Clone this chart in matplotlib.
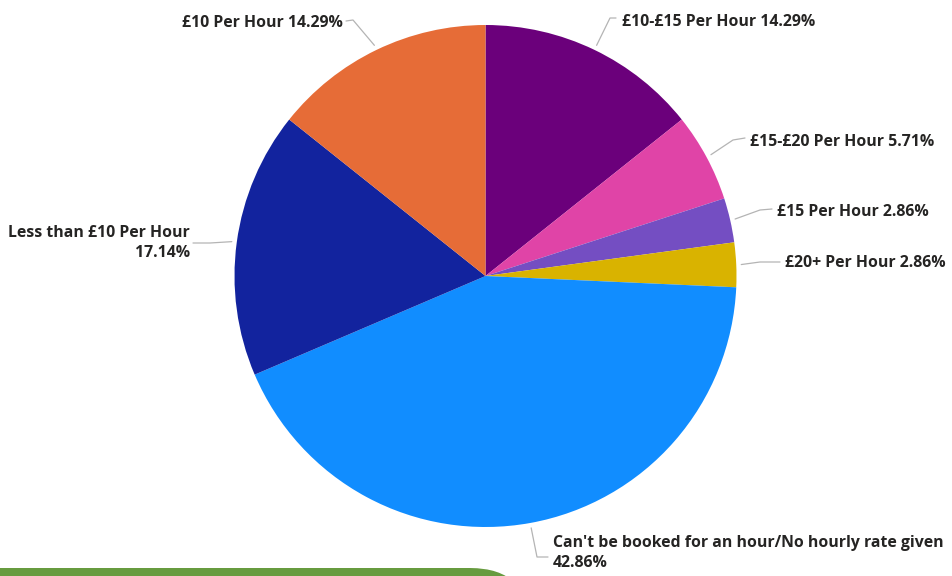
import matplotlib.pyplot as plt
import numpy as np
from matplotlib.patches import FancyBboxPatch

plt.rcParams['font.family'] = ['Open Sans', 'DejaVu Sans']

labels = ["£10-£15 Per Hour", "£15-£20 Per Hour", "£15 Per Hour", "£20+ Per Hour",
          "Can't be booked for an hour/No hourly rate given",
          "Less than £10 Per Hour", "£10 Per Hour"]
shares = [14.29, 5.71, 2.86, 2.86, 42.86, 17.14, 14.29]
colors = ["#6B007B", "#E044A7", "#744EC2", "#D9B300", "#118DFF", "#12239E", "#E66C37"]

W, H = 953, 576
fig = plt.figure(figsize=(W / 100, H / 100), dpi=100)
ax = fig.add_axes([0, 0, 1, 1])

cx, cy, r = 485.5, H - 276, 251
wedges, _ = ax.pie(shares, colors=colors, startangle=90, counterclock=False,
                   center=(cx, cy), radius=r,
                   wedgeprops=dict(linewidth=0, antialiased=True))
ax.set_xlim(0, W)
ax.set_ylim(0, H)
ax.set_aspect('equal')
ax.axis('off')

# label placement in pixels from the top-left: elbow point, line end, text anchor, alignment, two-line?
layout = [
    ((610, 18), (616, 18), (622, 22), 'left', False),
    ((733, 140), (745, 138), (750, 142), 'left', False),
    ((760, 210), (772, 209), (777, 212), 'left', False),
    ((760, 262), (780, 262), (785, 263), 'left', False),
    ((537, 557), (548, 557), (553, 553), 'left', True),
    ((210, 243), (193, 243), (190, 243), 'right', True),
    ((353, 20), (346, 21), (343, 23), 'right', False),
]

for w, lab, val, (elbow, end, txt, ha, twoline) in zip(wedges, labels, shares, layout):
    mid = np.deg2rad((w.theta1 + w.theta2) / 2)
    x0 = cx + r * 1.02 * np.cos(mid)
    y0 = cy + r * 1.02 * np.sin(mid)
    xs = [x0, elbow[0], end[0]]
    ys = [y0, H - elbow[1], H - end[1]]
    ax.plot(xs, ys, color="#b4b4b4", lw=0.9, solid_capstyle='round')
    sep = "\n" if twoline else " "
    ax.text(txt[0], H - txt[1], f"{lab}{sep}{val:.2f}%", ha=ha, va='center',
            multialignment=ha, fontsize=11.4, fontweight='bold', color="#252423",
            linespacing=1.38)

# green banner along the bottom edge
banner = FancyBboxPatch((-80, -80), 80 + 530, 80 + 8,
                        boxstyle="round,pad=0,rounding_size=60",
                        facecolor="#679B3F", edgecolor="none", clip_on=True)
ax.add_patch(banner)

fig.savefig("out.png", dpi=100, facecolor="white")
